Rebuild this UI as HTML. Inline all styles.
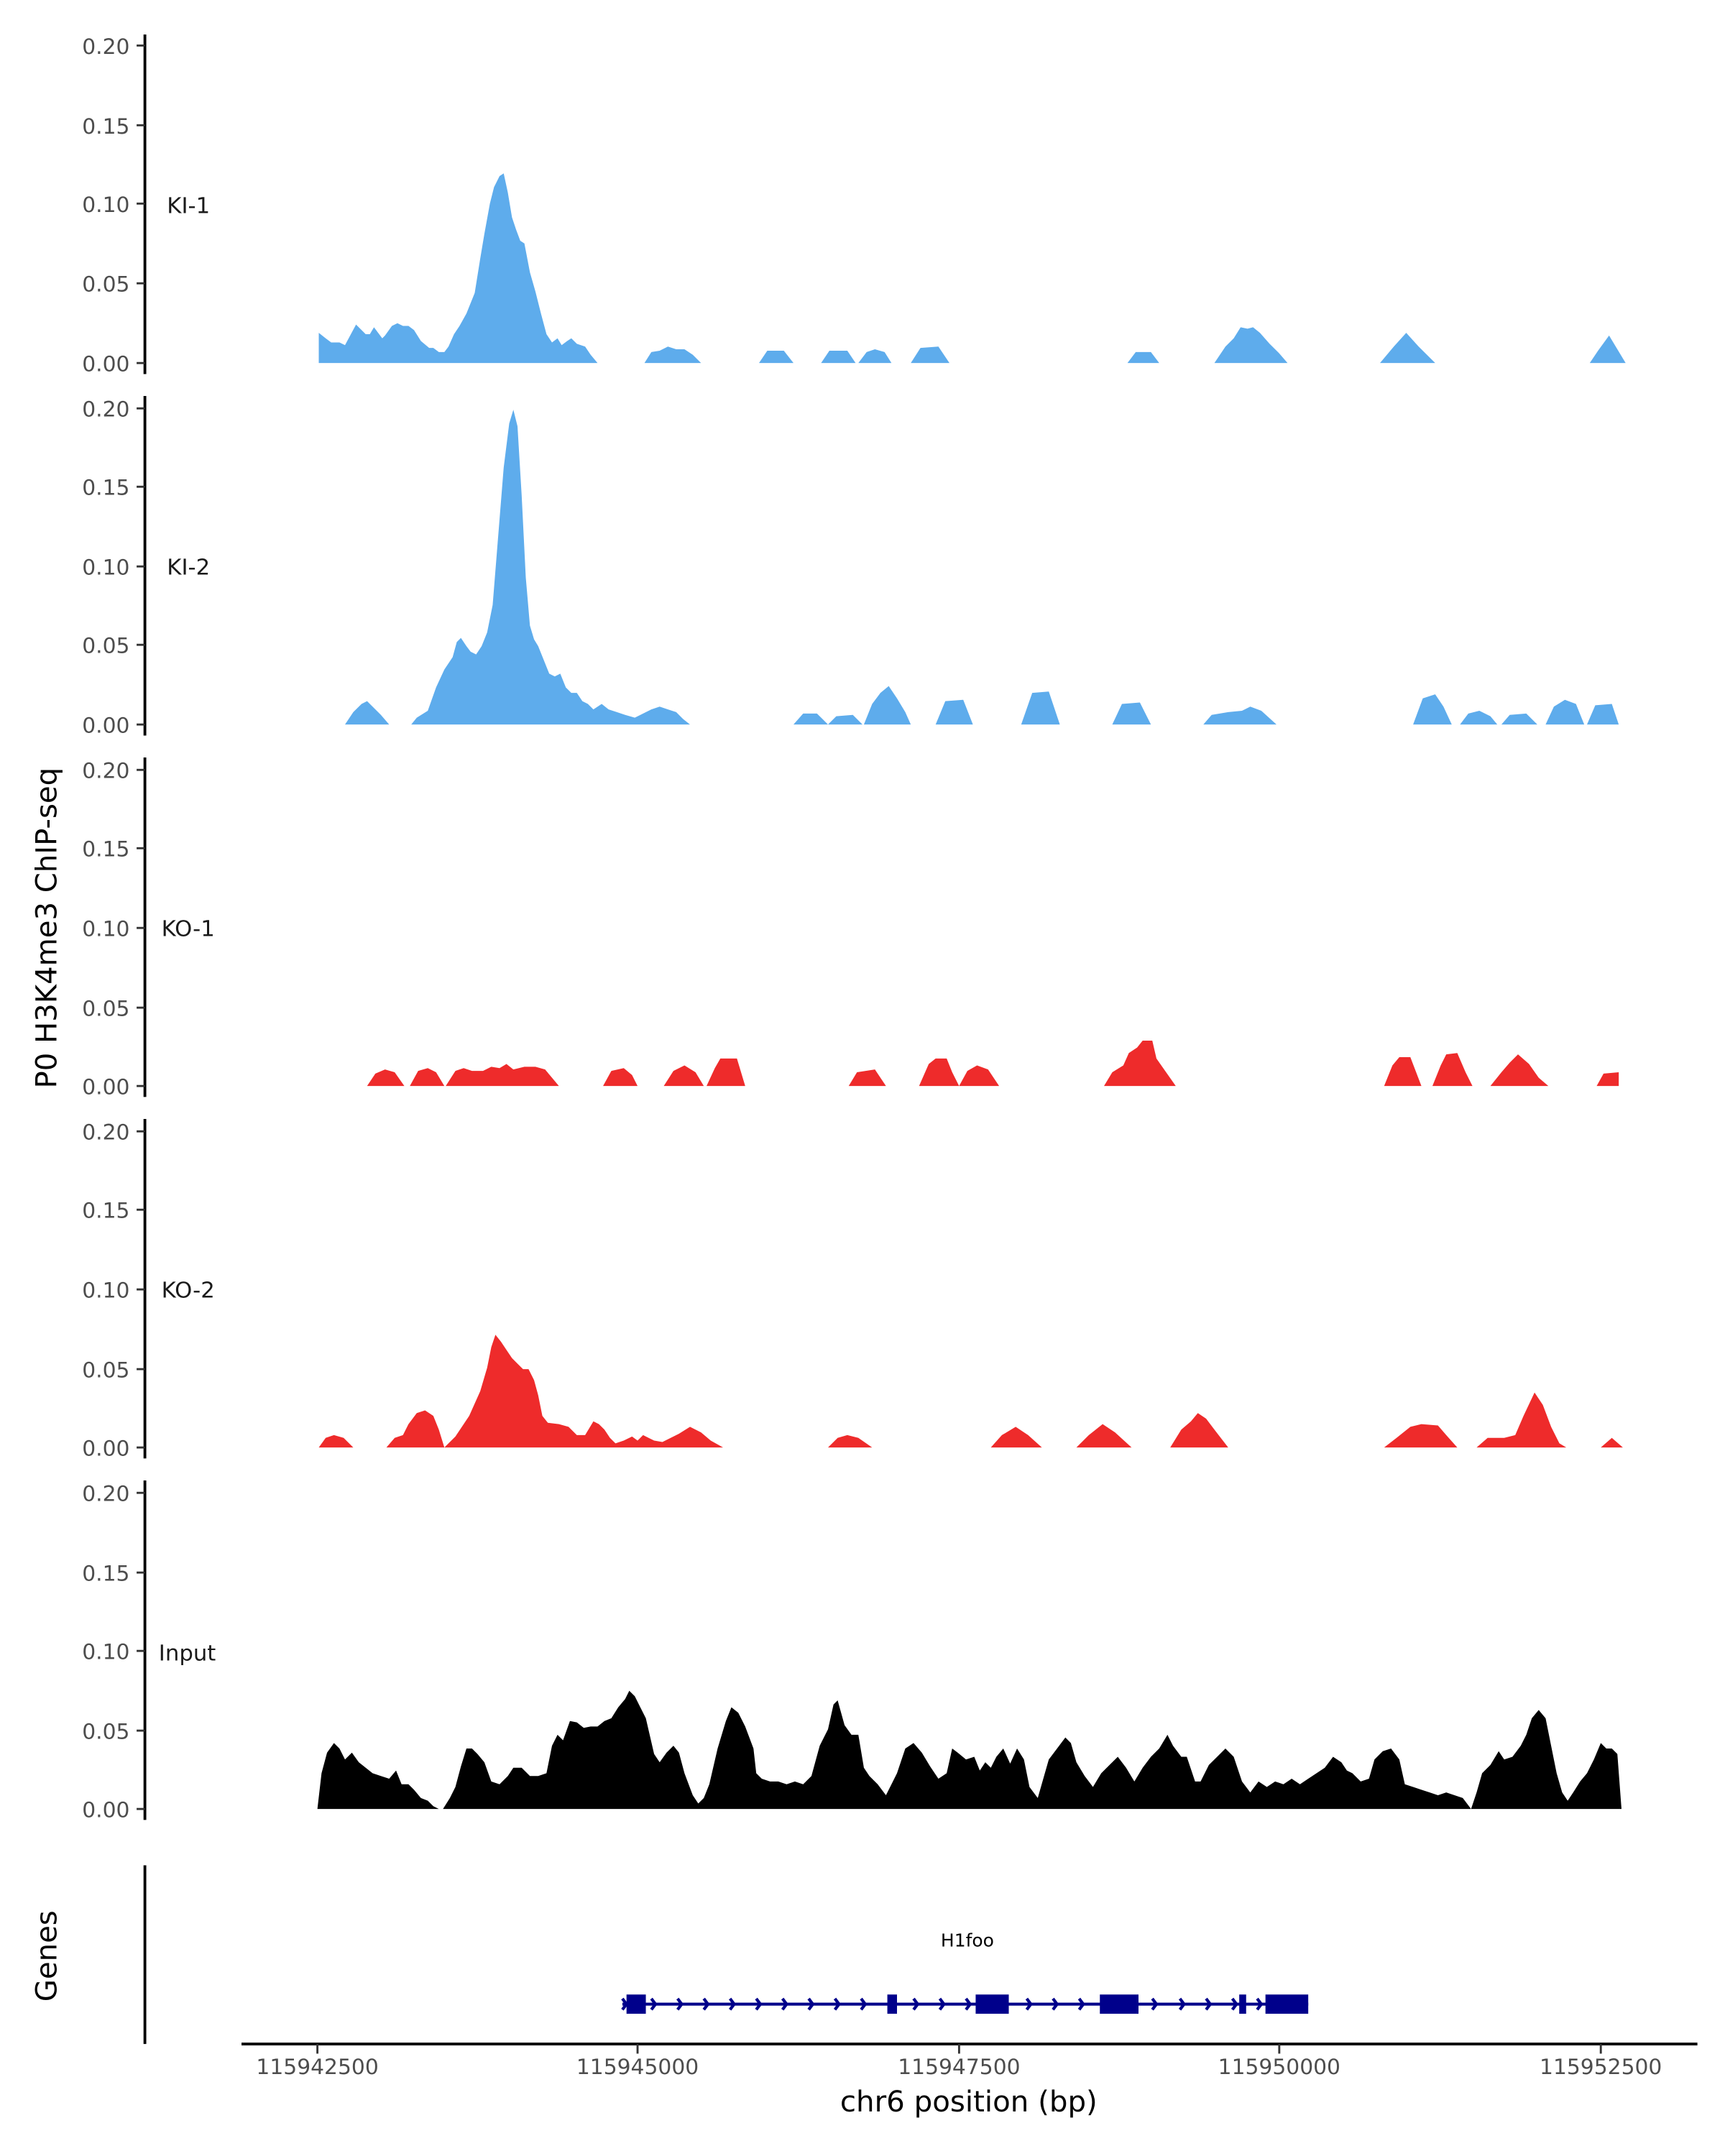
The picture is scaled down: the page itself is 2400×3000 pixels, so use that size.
<!DOCTYPE html>
<html><head><meta charset="utf-8"><style>
html,body{margin:0;padding:0;background:#fff;}
svg{display:block;}
text{font-family:"DejaVu Sans","Liberation Sans",sans-serif;}
.t{font-size:15.5px;fill:#4d4d4d;text-anchor:end;}
.l{font-size:16px;fill:#1a1a1a;}
.ax{stroke:#000;stroke-width:2;}
.tk{stroke:#333;stroke-width:1.5;}
</style></head><body>
<svg width="2400" height="3000" viewBox="0 0 1250 1562.5" xmlns="http://www.w3.org/2000/svg">
<rect width="1250" height="1562.5" fill="#fff"/>
<g transform="translate(0,0.13) scale(1,0.9961)">
<!-- panel axes -->
<g>
<line class="ax" x1="105" y1="25" x2="105" y2="272"/>
<line class="ax" x1="105" y1="288" x2="105" y2="535"/>
<line class="ax" x1="105" y1="551" x2="105" y2="798"/>
<line class="ax" x1="105" y1="814" x2="105" y2="1061"/>
<line class="ax" x1="105" y1="1077" x2="105" y2="1324"/>
<line class="ax" x1="105" y1="1357" x2="105" y2="1487"/>
</g>
<g class="tk">
<line x1="99" y1="33" x2="105" y2="33"/><line x1="99" y1="91" x2="105" y2="91"/><line x1="99" y1="148" x2="105" y2="148"/><line x1="99" y1="206" x2="105" y2="206"/><line x1="99" y1="264" x2="105" y2="264"/>
<line x1="99" y1="297" x2="105" y2="297"/><line x1="99" y1="354" x2="105" y2="354"/><line x1="99" y1="412" x2="105" y2="412"/><line x1="99" y1="469" x2="105" y2="469"/><line x1="99" y1="527" x2="105" y2="527"/>
<line x1="99" y1="560" x2="105" y2="560"/><line x1="99" y1="617" x2="105" y2="617"/><line x1="99" y1="675" x2="105" y2="675"/><line x1="99" y1="733" x2="105" y2="733"/><line x1="99" y1="790" x2="105" y2="790"/>
<line x1="99" y1="823" x2="105" y2="823"/><line x1="99" y1="880" x2="105" y2="880"/><line x1="99" y1="938" x2="105" y2="938"/><line x1="99" y1="996" x2="105" y2="996"/><line x1="99" y1="1053" x2="105" y2="1053"/>
<line x1="99" y1="1086" x2="105" y2="1086"/><line x1="99" y1="1144" x2="105" y2="1144"/><line x1="99" y1="1201" x2="105" y2="1201"/><line x1="99" y1="1259" x2="105" y2="1259"/><line x1="99" y1="1316" x2="105" y2="1316"/>
</g>
<g class="t">
<text x="94" y="39">0.20</text><text x="94" y="97">0.15</text><text x="94" y="154">0.10</text><text x="94" y="212">0.05</text><text x="94" y="270">0.00</text>
<text x="94" y="303">0.20</text><text x="94" y="360">0.15</text><text x="94" y="418">0.10</text><text x="94" y="475">0.05</text><text x="94" y="533">0.00</text>
<text x="94" y="566">0.20</text><text x="94" y="623">0.15</text><text x="94" y="681">0.10</text><text x="94" y="739">0.05</text><text x="94" y="796">0.00</text>
<text x="94" y="829">0.20</text><text x="94" y="886">0.15</text><text x="94" y="944">0.10</text><text x="94" y="1002">0.05</text><text x="94" y="1059">0.00</text>
<text x="94" y="1092">0.20</text><text x="94" y="1150">0.15</text><text x="94" y="1207">0.10</text><text x="94" y="1265">0.05</text><text x="94" y="1322">0.00</text>
</g>
<g class="l">
<text x="121" y="155">KI-1</text><text x="121" y="418">KI-2</text><text x="117" y="681">KO-1</text><text x="117" y="944">KO-2</text><text x="115" y="1208">Input</text>
</g>
<text transform="translate(41,675) rotate(-90)" font-size="21" text-anchor="middle" fill="#000">P0 H3K4me3 ChIP-seq</text>
<text transform="translate(41,1423) rotate(-90)" font-size="21" text-anchor="middle" fill="#000">Genes</text>

<!-- KI-1 -->
<g fill="#5eacec">
<polygon points="231,264 231,242 236,246 240,249 246,249 250,251 258,236 265,243 268,243 271,238 277,246 279,244 284,237 288,235 292,237 296,237 300,240 305,248 311,253 314,253 318,256 322,256 325,252 329,243 333,237 338,228 344,213 348,188 351,170 355,148 358,136 362,128 365,126 368,140 371,158 374,167 377,175 380,177 384,198 388,212 392,228 396,243 400,249 404,246 407,251 411,248 414,246 418,250 424,252 428,258 433,264"/>
<polygon points="467,264 472,256 478,255 484,252 490,254 496,254 502,258 508,264"/>
<polygon points="550,264 556,255 568,255 575,264"/>
<polygon points="595,264 601,255 614,255 620,264"/>
<polygon points="622,264 628,256 634,254 641,256 646,264"/>
<polygon points="660,264 667,253 680,252 688,264"/>
<polygon points="817,264 823,256 834,256 840,264"/>
<polygon points="880,264 888,252 894,246 899,238 904,239 908,238 913,242 920,250 927,257 933,264"/>
<polygon points="1000,264 1010,252 1019,242 1028,252 1040,264"/>
<polygon points="1152,264 1158,255 1166,244 1172,254 1178,264"/>
</g>
<!-- KI-2 -->
<g fill="#5eacec">
<polygon points="250,527 256,518 262,512 266,510 270,514 276,520 282,527"/>
<polygon points="298,527 302,522 310,517 316,500 322,487 328,478 331,467 334,464 338,470 341,474 345,476 349,470 353,460 357,440 361,390 365,340 369,308 372,298 375,310 378,360 381,420 384,455 387,465 390,470 394,480 398,490 402,492 406,490 410,500 414,504 418,504 422,510 426,512 430,516 436,512 441,516 447,518 453,520 460,522 466,519 472,516 478,514 484,516 490,518 495,523 500,527"/>
<polygon points="575,527 582,519 592,519 600,527"/>
<polygon points="600,527 606,521 618,520 625,527"/>
<polygon points="626,527 632,512 638,504 644,499 650,508 656,518 660,527"/>
<polygon points="678,527 685,510 698,509 705,527"/>
<polygon points="740,527 748,504 760,503 768,527"/>
<polygon points="806,527 813,512 826,511 834,527"/>
<polygon points="872,527 878,520 890,518 900,517 906,514 914,517 925,527"/>
<polygon points="1024,527 1031,508 1040,505 1046,514 1052,527"/>
<polygon points="1058,527 1064,519 1072,517 1080,521 1085,527"/>
<polygon points="1088,527 1094,520 1106,519 1114,527"/>
<polygon points="1120,527 1126,514 1134,509 1142,512 1148,527"/>
<polygon points="1150,527 1156,513 1168,512 1173,527"/>
</g>
<!-- KO-1 -->
<g fill="#ee2b2b">
<polygon points="266,790 272,781 279,778 286,780 293,790"/>
<polygon points="297,790 303,779 310,777 316,780 322,790"/>
<polygon points="323,790 330,779 336,777 342,779 350,779 356,776 362,777 367,774 372,778 380,776 388,776 395,778 400,784 405,790"/>
<polygon points="437,790 443,779 452,777 458,782 462,790"/>
<polygon points="481,790 488,779 496,775 504,780 510,790"/>
<polygon points="512,790 518,777 522,770 534,770 540,790"/>
<polygon points="615,790 621,780 634,778 642,790"/>
<polygon points="666,790 673,774 678,770 686,770 690,780 695,790"/>
<polygon points="695,790 701,779 708,775 716,778 724,790"/>
<polygon points="800,790 806,780 814,775 818,766 824,762 828,757 835,757 838,770 845,780 852,790"/>
<polygon points="1003,790 1009,775 1014,769 1022,769 1030,790"/>
<polygon points="1038,790 1044,775 1048,767 1056,766 1062,780 1067,790"/>
<polygon points="1080,790 1088,780 1094,773 1100,767 1108,774 1115,784 1122,790"/>
<polygon points="1157,790 1162,781 1173,780 1173,790"/>
</g>
<!-- KO-2 -->
<g fill="#ee2b2b">
<polygon points="231,1053 236,1046 242,1044 249,1046 256,1053"/>
<polygon points="280,1053 286,1046 292,1044 296,1036 302,1028 308,1026 314,1030 318,1040 322,1053"/>
<polygon points="322,1053 330,1045 340,1030 348,1012 353,995 356,980 359,971 363,976 367,982 371,988 375,992 379,996 383,996 387,1004 390,1015 393,1030 397,1035 405,1036 412,1038 418,1044 424,1044 430,1034 434,1036 438,1040 442,1046 446,1050 452,1048 458,1045 462,1048 466,1044 470,1046 474,1048 480,1049 486,1046 492,1043 500,1038 508,1042 515,1048 524,1053"/>
<polygon points="600,1053 607,1046 614,1044 622,1046 632,1053"/>
<polygon points="718,1053 726,1044 736,1038 745,1044 755,1053"/>
<polygon points="780,1053 789,1044 799,1036 808,1042 820,1053"/>
<polygon points="848,1053 856,1040 863,1034 868,1028 874,1032 880,1040 890,1053"/>
<polygon points="1003,1053 1012,1046 1022,1038 1030,1036 1042,1037 1048,1044 1056,1053"/>
<polygon points="1070,1053 1078,1046 1090,1046 1098,1044 1104,1030 1112,1013 1118,1022 1124,1038 1130,1050 1135,1053"/>
<polygon points="1160,1053 1168,1046 1176,1053"/>
</g>
<!-- Input -->
<g fill="#000">
<polygon points="230,1316 233,1290 237,1275 242,1268 246,1272 250,1280 255,1275 260,1282 265,1286 270,1290 276,1292 282,1294 287,1288 291,1298 296,1298 300,1302 305,1308 310,1310 314,1314 318,1316"/>
<polygon points="321,1316 326,1308 330,1300 334,1285 338,1272 342,1272 346,1276 351,1282 356,1296 362,1298 368,1292 372,1286 378,1286 384,1292 390,1292 396,1290 400,1270 404,1262 408,1266 413,1252 418,1253 423,1257 428,1256 433,1256 438,1252 443,1250 448,1242 453,1236 456,1230 460,1234 464,1242 468,1250 474,1276 478,1282 483,1275 488,1270 492,1275 496,1290 502,1306 506,1312 510,1308 514,1298 520,1272 526,1252 530,1242 535,1246 540,1256 546,1272 548,1290 552,1294 558,1296 564,1296 570,1298 576,1296 582,1298 588,1292 594,1270 600,1258 604,1240 607,1237 612,1255 617,1262 622,1262 626,1286 630,1292 636,1298 642,1306 646,1298 650,1290 656,1272 662,1268 668,1275 674,1285 680,1294 686,1290 690,1272 694,1275 700,1280 706,1278 710,1288 714,1282 718,1286 722,1278 727,1272 732,1283 737,1272 742,1280 746,1300 752,1308 756,1294 760,1280 766,1272 772,1264 776,1268 780,1282 786,1292 792,1300 798,1290 804,1284 810,1278 816,1286 822,1296 828,1286 834,1278 840,1272 846,1262 850,1270 856,1278 860,1278 866,1296 870,1296 876,1284 882,1278 888,1272 894,1278 900,1296 906,1304 912,1296 918,1300 924,1296 930,1298 936,1294 942,1298 948,1294 954,1290 960,1286 966,1278 972,1282 976,1288 980,1290 986,1296 992,1294 996,1280 1002,1274 1008,1272 1014,1280 1018,1298 1024,1300 1030,1302 1036,1304 1042,1306 1048,1304 1054,1306 1060,1308 1066,1316 1070,1304 1074,1290 1080,1284 1086,1274 1090,1280 1096,1278 1102,1270 1106,1262 1110,1250 1115,1244 1120,1250 1124,1270 1128,1290 1132,1304 1136,1310 1140,1304 1145,1296 1150,1290 1155,1280 1160,1268 1164,1272 1168,1272 1172,1276 1175,1316"/>
</g>
<!-- Gene track -->
<text x="701" y="1416" font-size="13" text-anchor="middle" fill="#000">H1foo</text>
<g stroke="#00008b" fill="none" stroke-width="2.2">
<line x1="451" y1="1458" x2="948" y2="1458"/>
<polyline points="472,1454 475,1458 472,1462"/><polyline points="491,1454 494,1458 491,1462"/><polyline points="510,1454 513,1458 510,1462"/><polyline points="529,1454 532,1458 529,1462"/><polyline points="548,1454 551,1458 548,1462"/><polyline points="567,1454 570,1458 567,1462"/><polyline points="586,1454 589,1458 586,1462"/><polyline points="605,1454 608,1458 605,1462"/><polyline points="624,1454 627,1458 624,1462"/><polyline points="662,1454 665,1458 662,1462"/><polyline points="681,1454 684,1458 681,1462"/><polyline points="700,1454 703,1458 700,1462"/><polyline points="835,1454 838,1458 835,1462"/><polyline points="855,1454 858,1458 855,1462"/><polyline points="874,1454 877,1458 874,1462"/><polyline points="763,1454 766,1458 763,1462"/><polyline points="744,1454 747,1458 744,1462"/><polyline points="782,1454 785,1458 782,1462"/><polyline points="893,1454 896,1458 893,1462"/><polyline points="911,1454 914,1458 911,1462"/><polyline points="451,1454 454,1458 451,1462"/>
</g>
<g fill="#00008b">
<rect x="454" y="1451" width="14" height="14"/><rect x="643" y="1451" width="7" height="14"/><rect x="707" y="1451" width="24" height="14"/><rect x="797" y="1451" width="28" height="14"/><rect x="898" y="1451" width="5" height="14"/><rect x="917" y="1451" width="31" height="14"/>
</g>
<!-- x axis -->
<line class="ax" x1="175" y1="1487" x2="1230" y2="1487"/>
<g class="tk">
<line x1="230" y1="1487" x2="230" y2="1494"/><line x1="462" y1="1487" x2="462" y2="1494"/><line x1="695" y1="1487" x2="695" y2="1494"/><line x1="927" y1="1487" x2="927" y2="1494"/><line x1="1160" y1="1487" x2="1160" y2="1494"/>
</g>
<g font-size="15.5" fill="#4d4d4d" text-anchor="middle">
<text x="230" y="1509">115942500</text><text x="462" y="1509">115945000</text><text x="695" y="1509">115947500</text><text x="927" y="1509">115950000</text><text x="1160" y="1509">115952500</text>
</g>
<text x="702" y="1536" font-size="21" text-anchor="middle" fill="#000">chr6 position (bp)</text>
</g>
</svg>
</body></html>
